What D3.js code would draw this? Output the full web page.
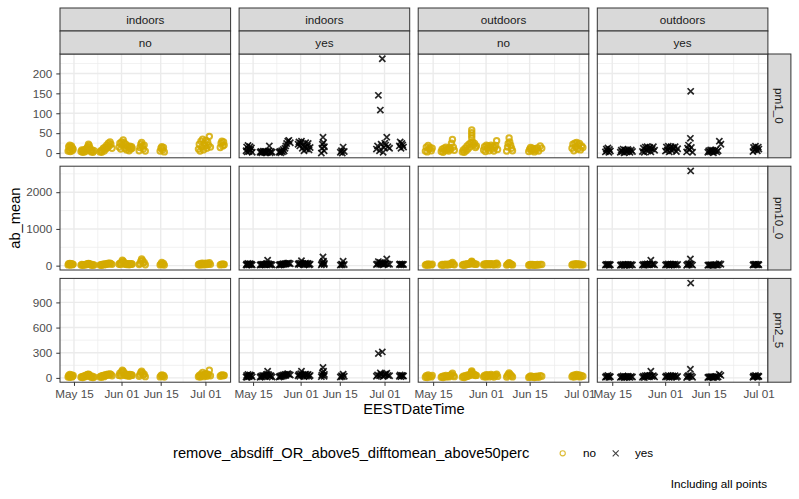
<!DOCTYPE html>
<html>
<head>
<meta charset="utf-8">
<script src="https://cdn.jsdelivr.net/npm/d3@7"></script>
<style>
  body { margin: 0; background: #fff; }
  text { font-family: "Liberation Sans", Arial, sans-serif; }
</style>
</head>
<body>
<div id="chart"></div>
<script>
// facet labels
var locations = ['indoors', 'indoors', 'outdoors', 'outdoors'];
var flags = ['no', 'yes', 'no', 'yes'];
var pollutants = ['pm1_0', 'pm10_0', 'pm2_5'];

// x range of each column, days after May 01
var xDomains = [[9.0, 70.0], [9.0, 70.0], [9.2, 64.0], [9.2, 64.0]];
var yTicks = [[0, 50, 100, 150, 200], [0, 1000, 2000], [0, 300, 600, 900]];
var xTickLabels = ['2021-05-15', '2021-06-01', '2021-06-15', '2021-07-01'];

// readings: time in days after May 01, one value array per pollutant
var daysIndoorsNo = [11.9,12.1,12.3,12.5,12.7,12.9,13.1,13.3,13.5,13.7,
  16.5,16.8,17.1,17.4,17.7,18.0,18.3,18.6,18.9,19.2,19.4,19.6,19.9,20.2,20.5,20.8,21.2,
  23.3,23.6,23.9,24.2,24.5,24.8,25.1,25.4,25.7,26.0,26.3,26.6,26.9,27.2,27.6,
  30.1,30.4,30.7,31.0,31.3,31.6,31.9,32.2,32.5,32.8,33.1,33.4,33.7,34.0,34.3,34.6,34.8,
  37.3,37.6,37.9,38.2,38.5,38.8,39.1,39.5,
  44.8,45.1,45.4,45.7,46.0,46.3,
  58.5,58.8,59.1,59.4,59.7,60.0,60.3,60.6,60.9,61.2,61.5,61.8,62.1,62.4,62.8,
  66.3,66.6,66.9,67.2,67.5,67.7];
var pm1IndoorsNo = [5,16,8,20,4,14,18,6,12,9,
  4,8,2,7,3,9,5,12,16,22,19,14,6,3,8,2,6,
  3,6,2,8,12,5,15,10,20,14,25,18,28,22,12,
  15,25,10,28,20,33,26,12,22,8,18,14,6,17,10,16,12,
  6,14,22,27,18,10,20,5,
  5,12,16,8,14,3,
  10,22,5,30,15,35,8,25,18,32,12,28,20,42,15,
  14,25,30,18,28,20];
var pm10IndoorsNo = [20,50,30,60,15,45,55,25,40,35,
  15,30,10,25,20,35,25,40,50,60,55,45,25,15,30,10,20,
  15,25,10,30,40,20,45,35,55,40,65,50,70,55,35,
  40,70,30,90,145,120,80,40,60,30,50,45,25,55,35,50,40,
  30,60,120,180,140,70,90,25,
  20,45,90,30,60,15,
  25,45,15,60,35,70,20,50,40,65,30,55,45,80,35,
  20,35,40,30,40,30];
var pm25IndoorsNo = [10,30,15,40,8,25,35,12,20,28,
  8,15,5,20,12,28,18,35,40,45,38,30,15,8,20,5,12,
  10,20,8,25,30,15,35,28,40,32,45,38,48,40,25,
  30,55,25,70,91,80,60,30,45,25,40,35,20,42,28,38,30,
  20,40,65,79,60,35,45,15,
  12,25,35,20,30,10,
  15,30,10,45,25,64,15,40,30,50,20,45,35,91,25,
  20,30,35,25,32,28];

var daysIndoorsYes = [11.5,11.7,11.9,12.2,12.4,12.6,12.9,13.1,13.4,13.7,
  16.5,16.8,17.1,17.4,17.7,18.0,18.3,18.6,18.9,19.2,19.5,19.8,20.1,20.4,20.8,
  23.3,23.6,23.9,24.2,24.5,24.8,25.1,25.4,25.7,26.0,26.4,26.8,27.3,
  30.1,30.4,30.7,31.0,31.3,31.6,31.9,32.2,32.5,32.8,33.1,33.4,33.7,34.0,34.4,
  38.4,38.6,38.8,39.0,39.2,39.4,39.5,
  45.2,45.6,45.9,46.2,46.6,
  58.1,58.5,58.8,59.2,59.5,59.8,60.2,60.5,60.8,61.1,61.4,61.8,62.2,62.8,
  66.3,66.6,66.9,67.2,67.5,67.8];
var pm1IndoorsYes = [6,15,3,19,10,4,16,8,13,2,
  2,4,1,3,5,2,4,1,3,2,5,18,1,4,2,
  2,4,1,6,3,9,5,12,18,24,30,32,26,
  22,28,18,25,30,12,20,6,15,26,10,18,24,8,14,
  0,12,22,40,26,6,16,
  2,6,0,15,4,
  10,18,145,6,108,22,237,2,14,25,20,40,16,12,
  18,28,12,24,20,15];
var pm10IndoorsYes = [20,45,15,60,35,25,55,30,40,20,
  15,30,20,40,25,35,30,45,60,145,50,40,25,35,20,
  15,30,20,40,30,50,35,55,45,60,70,65,50,
  40,60,30,70,135,50,45,20,55,65,30,50,60,25,40,
  20,50,80,235,120,30,60,
  15,40,25,120,30,
  30,45,110,35,90,50,80,25,45,60,55,180,40,35,
  30,45,25,40,35,30];
var pm25IndoorsYes = [10,30,8,40,20,15,35,25,30,12,
  8,20,12,30,15,25,20,35,45,79,40,30,15,25,10,
  10,20,15,30,20,35,25,40,30,45,50,42,35,
  25,40,20,50,79,35,30,15,40,45,20,35,40,18,28,
  15,35,60,125,80,20,40,
  10,25,15,43,20,
  20,35,290,25,60,40,310,15,30,45,40,55,30,25,
  20,35,15,30,25,22];

var daysOutdoorsNo = [11.5,11.8,12.1,12.4,12.7,13.0,13.4,13.7,
  16.6,16.9,17.2,17.5,17.8,18.1,18.4,18.7,19.0,19.3,19.6,19.9,20.2,20.5,20.8,
  23.4,23.7,24.0,24.3,24.6,24.9,25.2,25.5,25.8,26.1,26.4,26.4,26.4,26.4,26.7,27.0,27.3,27.6,27.9,
  30.2,30.5,30.8,31.1,31.4,31.7,32.0,32.3,32.6,32.9,33.2,33.5,33.8,34.1,34.4,34.7,
  37.6,37.9,38.1,38.4,38.6,38.9,39.2,39.5,
  44.7,45.0,45.3,45.6,45.9,46.2,46.5,46.8,47.1,47.5,47.9,48.4,48.9,
  58.6,58.9,59.2,59.5,59.8,60.1,60.4,60.7,61.0,61.3,61.7,62.1];
var pm1OutdoorsNo = [5,15,3,19,10,14,6,12,
  4,10,2,12,6,15,8,11,5,14,9,25,34,15,7,
  3,8,2,12,6,18,10,22,15,26,38,45,51,58,28,20,24,14,18,
  8,16,4,20,12,18,6,15,20,10,17,5,14,19,31,9,
  5,15,24,38,28,20,12,6,
  4,10,14,6,12,8,3,11,7,13,5,18,12,
  12,22,6,25,16,27,10,20,24,8,18,14];
var pm10OutdoorsNo = [15,35,10,45,25,30,20,40,
  15,30,10,35,20,40,25,30,20,45,35,60,90,40,25,
  15,30,10,40,25,50,35,55,45,60,75,90,105,120,60,45,55,35,40,
  25,45,15,55,35,50,20,40,55,30,45,15,35,50,65,25,
  15,35,55,80,60,45,30,20,
  10,25,35,15,30,20,10,25,15,30,15,35,30,
  20,40,15,45,30,50,20,35,45,15,35,25];
var pm25OutdoorsNo = [8,25,5,35,15,20,12,28,
  8,18,5,22,12,28,15,20,12,30,22,40,55,25,15,
  8,20,5,25,15,32,20,38,30,42,50,62,70,84,45,35,40,28,30,
  15,30,10,38,22,35,12,28,40,20,32,10,25,35,45,18,
  10,25,40,60,45,35,22,12,
  6,15,22,10,18,12,5,16,10,20,8,25,20,
  15,30,10,35,22,40,15,28,35,12,25,20];

var daysOutdoorsYes = [11.8,12.1,12.3,12.6,12.9,13.1,13.4,
  16.6,16.9,17.2,17.5,17.8,18.1,18.4,18.7,19.0,19.3,19.7,20.1,20.5,
  23.7,24.0,24.3,24.6,24.9,25.2,25.5,25.8,26.1,26.4,26.8,27.2,27.6,
  31.1,31.4,31.7,32.0,32.3,32.6,32.9,33.2,33.5,33.8,34.2,34.6,35.0,
  37.9,38.2,38.5,38.8,39.1,39.2,39.4,39.8,
  44.7,45.0,45.3,45.6,45.9,46.2,46.5,46.8,47.2,47.6,48.0,48.4,48.9,
  59.2,59.4,59.7,60.0,60.3,60.6,60.9,61.1];
var pm1OutdoorsYes = [3,10,6,13,2,9,5,
  2,7,4,10,1,8,5,3,9,6,2,8,4,
  4,12,2,15,8,16,5,12,14,3,11,16,7,
  5,15,8,17,3,12,16,6,14,10,16,4,11,
  3,12,20,8,37,155,14,2,
  2,6,3,8,4,7,1,5,8,3,6,30,22,
  4,14,8,17,11,6,15,10];
var pm10OutdoorsYes = [15,35,20,40,10,30,25,
  10,25,15,35,10,30,20,15,35,25,10,30,20,
  15,35,10,40,25,45,20,35,50,145,30,40,20,
  15,35,20,45,10,30,40,20,35,25,40,15,30,
  10,35,50,25,180,2580,40,15,
  10,20,15,25,15,20,10,20,25,15,20,55,40,
  15,35,25,40,30,20,35,25];
var pm25OutdoorsYes = [8,20,12,28,6,18,14,
  6,15,10,22,5,18,12,8,20,14,6,18,10,
  8,20,5,25,15,28,12,22,30,79,18,25,12,
  10,22,12,28,6,18,25,10,22,15,25,8,18,
  5,20,30,15,103,1130,22,8,
  5,12,8,15,10,14,5,12,16,8,12,43,30,
  8,22,15,28,18,10,24,16];

var columnDays = [daysIndoorsNo, daysIndoorsYes, daysOutdoorsNo, daysOutdoorsYes];
var columnValues = [
  [pm1IndoorsNo, pm10IndoorsNo, pm25IndoorsNo],
  [pm1IndoorsYes, pm10IndoorsYes, pm25IndoorsYes],
  [pm1OutdoorsNo, pm10OutdoorsNo, pm25OutdoorsNo],
  [pm1OutdoorsYes, pm10OutdoorsYes, pm25OutdoorsYes]
];

var width = 799, height = 499;
var svg = d3.select('#chart').append('svg')
    .attr('width', width)
    .attr('height', height);

var panelLeft = 60, panelW = 170.6, gapX = 8.5;
var panelTop = 54, panelH = 103.8, gapY = 8.4;
var stripH = 23;
var yellow = '#D4AA00';

var base = new Date(2021, 4, 1);
var toDate = function (d) { return new Date(base.getTime() + d * 864e5); };
var tickDates = xTickLabels.map(function (s) { return d3.timeParse('%Y-%m-%d')(s); });
var minorDates = d3.pairs(tickDates).map(function (p) { return new Date((p[0].getTime() + p[1].getTime()) / 2); });

var xScales = xDomains.map(function (dom, i) {
    var x0 = panelLeft + i * (panelW + gapX);
    return d3.scaleTime().domain(dom.map(toDate)).range([x0, x0 + panelW]);
});

// y range per row: data extent plus 5%
var yScales = pollutants.map(function (p, r) {
    var all = d3.merge(columnValues.map(function (c) { return c[r]; }));
    var lo = d3.min(all), hi = d3.max(all), pad = (hi - lo) * 0.05;
    var y0 = panelTop + r * (panelH + gapY);
    return d3.scaleLinear().domain([lo - pad, hi + pad]).range([y0 + panelH, y0]);
});

pollutants.forEach(function (p, r) {
    var y = yScales[r];
    var yt = yTicks[r];
    var step = yt[1] - yt[0];
    var yMinor = yt.map(function (v) { return v + step / 2; })
        .filter(function (v) { return v < y.domain()[1]; });

    xDomains.forEach(function (dom, c) {
        var x = xScales[c];
        var g = svg.append('g');
        var x0 = x.range()[0], x1 = x.range()[1];
        var y0 = y.range()[1], y1 = y.range()[0];

        g.append('rect').attr('x', x0).attr('y', y0).attr('width', x1 - x0).attr('height', y1 - y0).attr('fill', '#fff');

        g.selectAll('.yminor').data(yMinor).enter().append('line')
            .attr('x1', x0).attr('x2', x1).attr('y1', y).attr('y2', y)
            .attr('stroke', '#EBEBEB').attr('stroke-width', 0.7);
        g.selectAll('.xminor').data(minorDates).enter().append('line')
            .attr('x1', x).attr('x2', x).attr('y1', y0).attr('y2', y1)
            .attr('stroke', '#EBEBEB').attr('stroke-width', 0.7);
        g.selectAll('.ymajor').data(yt).enter().append('line')
            .attr('x1', x0).attr('x2', x1).attr('y1', y).attr('y2', y)
            .attr('stroke', '#EBEBEB').attr('stroke-width', 1.4);
        g.selectAll('.xmajor').data(tickDates).enter().append('line')
            .attr('x1', x).attr('x2', x).attr('y1', y0).attr('y2', y1)
            .attr('stroke', '#EBEBEB').attr('stroke-width', 1.4);

        var pts = columnDays[c].map(function (d, i) {
            return { t: toDate(d), v: columnValues[c][r][i] };
        }).filter(function (d) { return d.v != null; });

        if (flags[c] === 'no') {
            g.selectAll('.pt').data(pts).enter().append('circle')
                .attr('cx', function (d) { return x(d.t); })
                .attr('cy', function (d) { return y(d.v); })
                .attr('r', 2.7)
                .attr('fill', 'none')
                .attr('stroke', yellow)
                .attr('stroke-width', 2)
                .attr('stroke-opacity', 0.85);
        } else {
            var s = 3.1;
            g.selectAll('.pt').data(pts).enter().append('path')
                .attr('d', function (d) {
                    var px = x(d.t), py = y(d.v);
                    return 'M' + (px - s) + ',' + (py - s) + 'L' + (px + s) + ',' + (py + s) +
                        'M' + (px - s) + ',' + (py + s) + 'L' + (px + s) + ',' + (py - s);
                })
                .attr('stroke', '#000')
                .attr('stroke-width', 1.7)
                .attr('stroke-opacity', 0.85);
        }

        g.append('rect').attr('x', x0).attr('y', y0).attr('width', x1 - x0).attr('height', y1 - y0)
            .attr('fill', 'none').attr('stroke', '#333').attr('stroke-width', 1);

        // y axis on first column
        if (c === 0) {
            var ya = svg.append('g')
                .attr('transform', 'translate(' + x0 + ',0)')
                .call(d3.axisLeft(y).tickValues(yt).tickFormat(d3.format('d')).tickSize(3.7).tickPadding(4));
            ya.select('.domain').remove();
            ya.selectAll('line').attr('stroke', '#333');
            ya.selectAll('text').attr('fill', '#4D4D4D').style('font-size', '11.7px');
        }
        // x axis on last row
        if (r === pollutants.length - 1) {
            var xa = svg.append('g')
                .attr('transform', 'translate(0,' + y1 + ')')
                .call(d3.axisBottom(x).tickValues(tickDates).tickFormat(d3.timeFormat('%b %d')).tickSize(3.7).tickPadding(4));
            xa.select('.domain').remove();
            xa.selectAll('line').attr('stroke', '#333');
            xa.selectAll('text').attr('fill', '#4D4D4D').style('font-size', '11.7px');
        }
    });

    // right strip
    var ry0 = y.range()[1], ry1 = y.range()[0];
    var sx = panelLeft + 4 * panelW + 3 * gapX;
    svg.append('rect').attr('x', sx).attr('y', ry0).attr('width', stripH).attr('height', ry1 - ry0)
        .attr('fill', '#D9D9D9').attr('stroke', '#333').attr('stroke-width', 1);
    svg.append('text')
        .attr('transform', 'translate(' + (sx + stripH / 2) + ',' + ((ry0 + ry1) / 2) + ')rotate(90)')
        .attr('text-anchor', 'middle')
        .attr('dy', '0.35em')
        .attr('fill', '#1A1A1A')
        .style('font-size', '11.7px')
        .text(p);
});

// top strips
xScales.forEach(function (x, c) {
    var x0 = x.range()[0], x1 = x.range()[1];
    [locations[c], flags[c]].forEach(function (lab, k) {
        var sy = panelTop - 2 * stripH + k * stripH;
        svg.append('rect').attr('x', x0).attr('y', sy).attr('width', x1 - x0).attr('height', stripH)
            .attr('fill', '#D9D9D9').attr('stroke', '#333').attr('stroke-width', 1);
        svg.append('text')
            .attr('x', (x0 + x1) / 2)
            .attr('y', sy + stripH / 2)
            .attr('dy', '0.35em')
            .attr('text-anchor', 'middle')
            .attr('fill', '#1A1A1A')
            .style('font-size', '11.7px')
            .text(lab);
    });
});

// axis titles
var plotRight = panelLeft + 4 * panelW + 3 * gapX;
var plotBottom = panelTop + 3 * panelH + 2 * gapY;
svg.append('text')
    .attr('x', (panelLeft + plotRight) / 2)
    .attr('y', 414)
    .attr('text-anchor', 'middle')
    .style('font-size', '14.7px')
    .text('EESTDateTime');
svg.append('text')
    .attr('transform', 'translate(20,' + ((panelTop + plotBottom) / 2) + ')rotate(-90)')
    .attr('text-anchor', 'middle')
    .style('font-size', '14.7px')
    .text('ab_mean');

// legend
var legY = 453.3;
svg.append('text')
    .attr('x', 173)
    .attr('y', legY)
    .attr('dy', '0.35em')
    .style('font-size', '14.7px')
    .text('remove_absdiff_OR_above5_difftomean_above50perc');
svg.append('circle')
    .attr('cx', 562.7).attr('cy', legY).attr('r', 2.6)
    .attr('fill', 'none').attr('stroke', yellow).attr('stroke-width', 1.1).attr('stroke-opacity', 0.8);
svg.append('text')
    .attr('x', 583).attr('y', legY).attr('dy', '0.35em')
    .style('font-size', '11.7px')
    .text('no');
svg.append('path')
    .attr('d', 'M612.7,450.3L618.7,456.3M612.7,456.3L618.7,450.3')
    .attr('stroke', '#000').attr('stroke-width', 1.1).attr('stroke-opacity', 0.75);
svg.append('text')
    .attr('x', 635).attr('y', legY).attr('dy', '0.35em')
    .style('font-size', '11.7px')
    .text('yes');

// caption
svg.append('text')
    .attr('x', 767)
    .attr('y', 488)
    .attr('text-anchor', 'end')
    .style('font-size', '11.7px')
    .text('Including all points');
</script>
</body>
</html>
